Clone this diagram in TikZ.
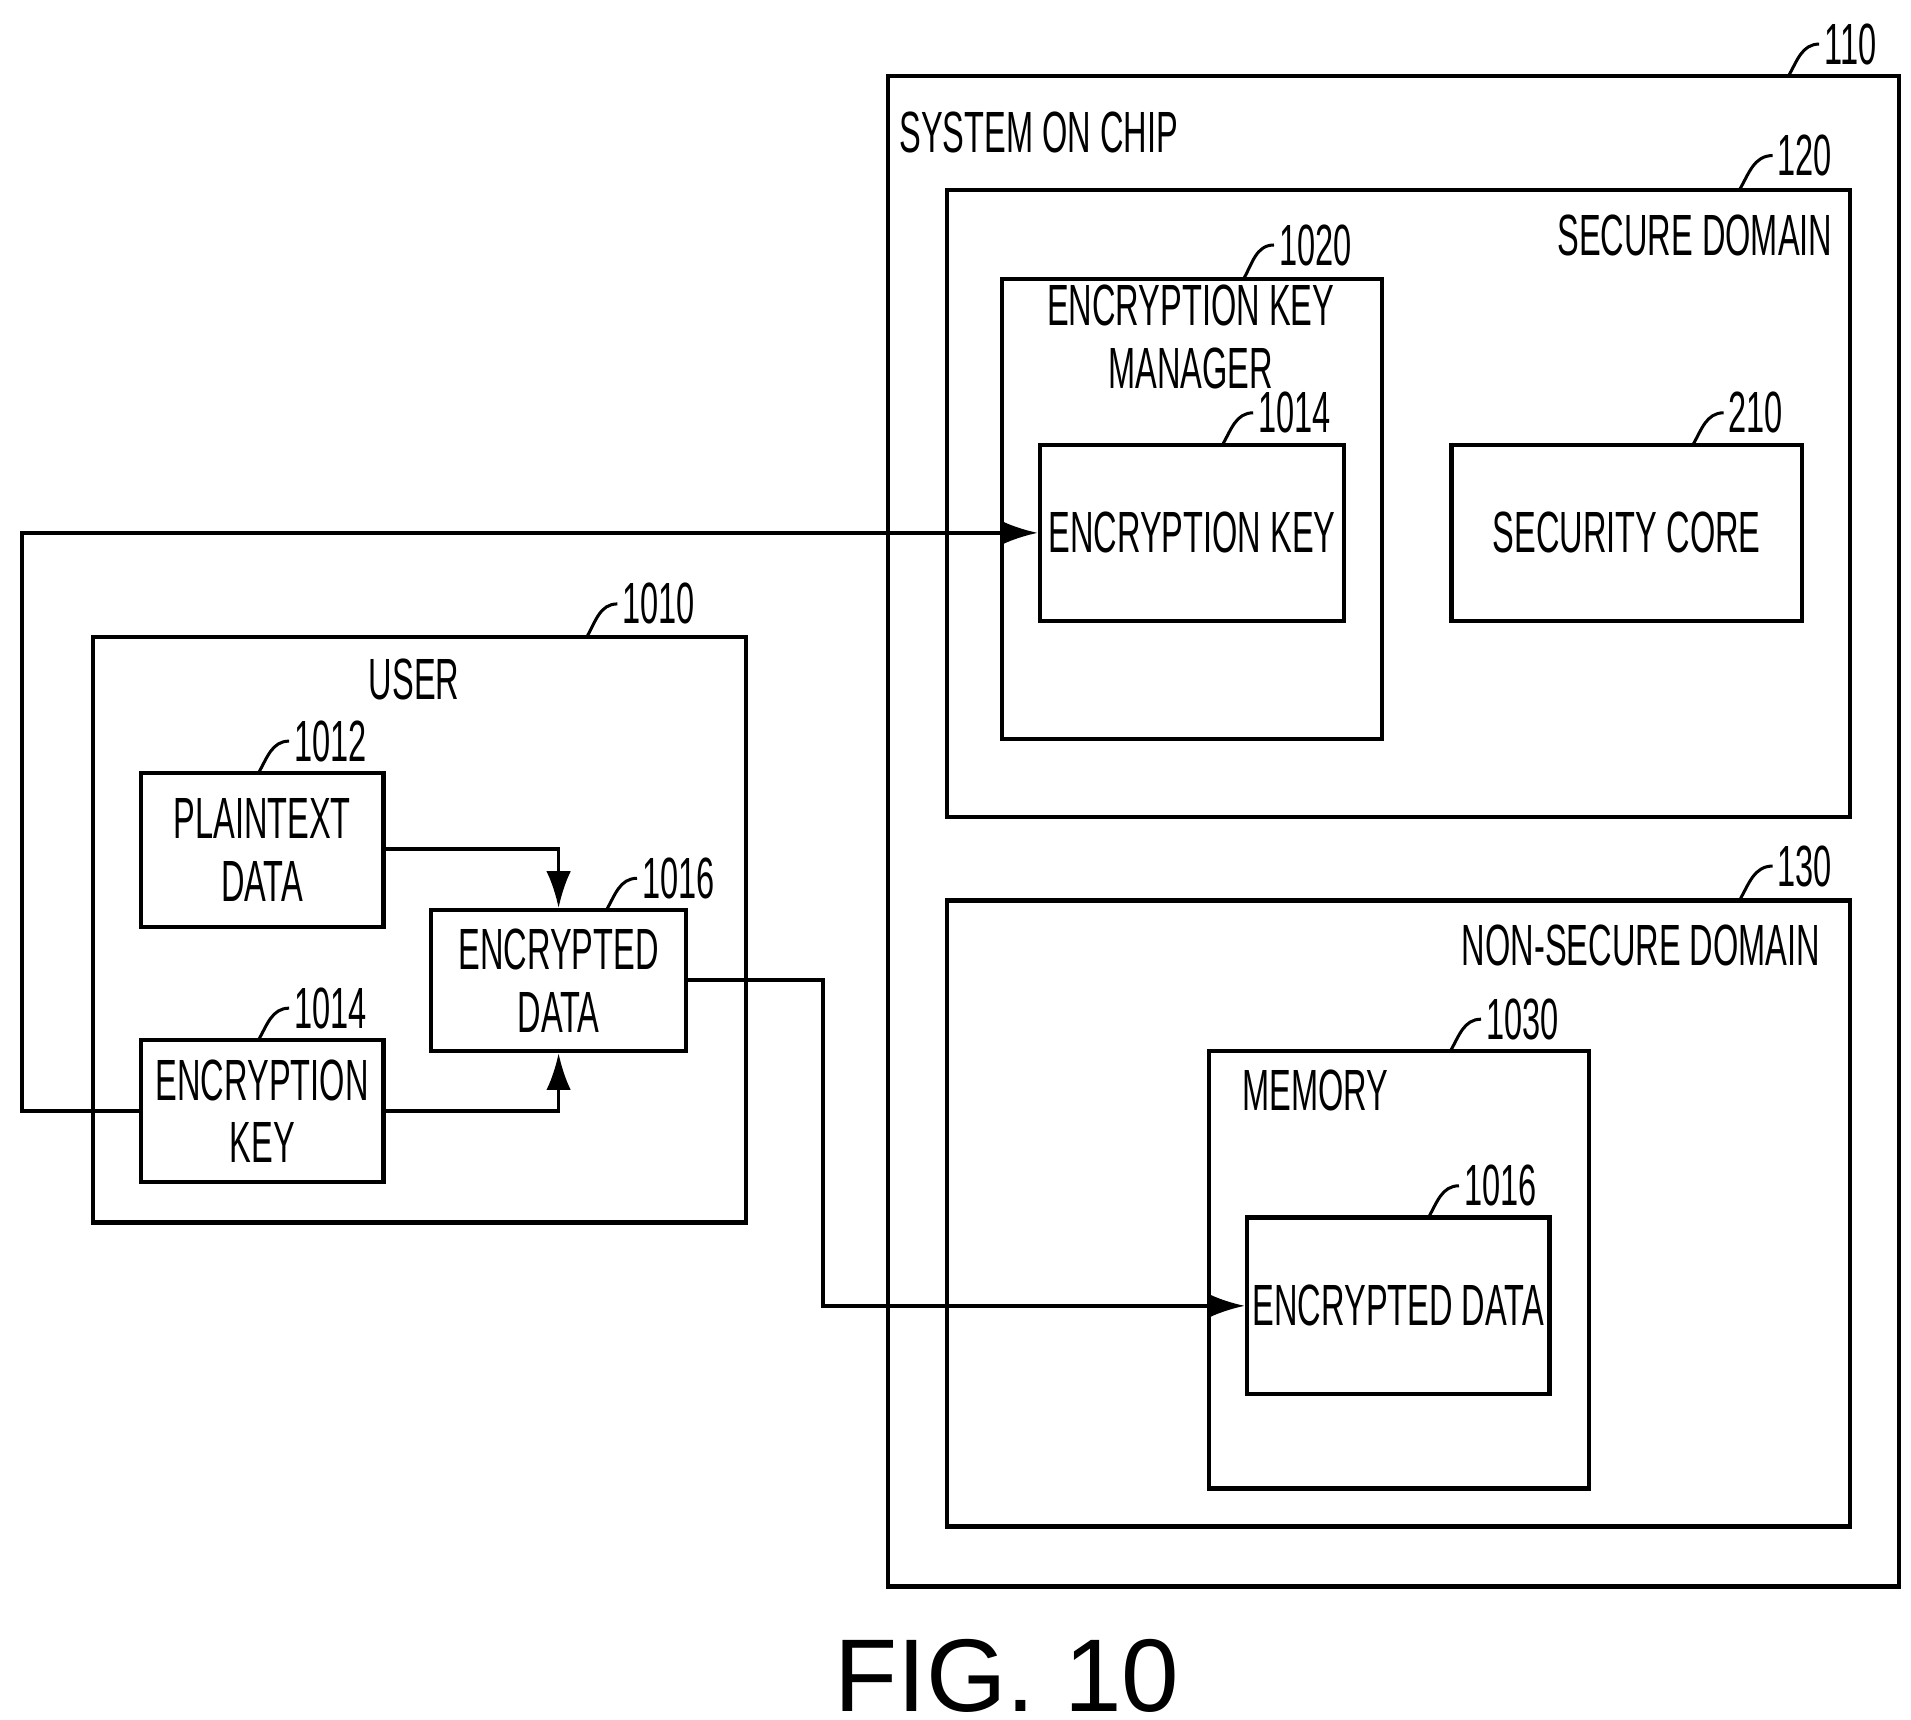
\documentclass[tikz,border=0pt]{standalone}
\usepackage{fontspec}
\setmainfont{Liberation Sans}
\newfontfamily\condfont[FakeStretch=0.56]{Liberation Sans}
\usetikzlibrary{fit,arrows.meta}

\tikzset{
  box/.style={draw, line width=1pt, inner sep=0pt},
  lbl/.style={font=\condfont\fontsize{13.5pt}{14.5pt}\selectfont, align=center, inner sep=1pt},
  refno/.style={font=\condfont\fontsize{13.5pt}{15pt}\selectfont, anchor=west, inner sep=1pt},
  lead/.style={line width=0.7pt},
  conn/.style={line width=0.8pt},
  arr/.style={conn, -{Latex[length=3mm, width=2mm]}}
}

\begin{document}
\begin{tikzpicture}[x=0.01cm, y=-0.01cm]
\useasboundingbox (0,0) rectangle (1560,1404);

% System on chip
\node[box, fit={(725,62)(1550,1295)}] (soc) {};
\node[lbl] (soclbl) at (848,108) {SYSTEM ON CHIP};
\node[refno] (r110) at (1485,36) {110};
\draw[lead] (1460,62) to[out=60,in=180] (r110.west);

% Secure domain
\node[box, fit={(773,155)(1510,667)}] (sec) {};
\node[lbl, anchor=east] (seclbl) at (1500,192) {SECURE DOMAIN};
\node[refno] (r120) at (1447,127) {120};
\draw[lead] (1420,155) to[out=60,in=180] (r120.west);

% Encryption key manager
\node[box, fit={(818,228)(1128,603)}] (ekm) {};
\node[lbl] (ekmlbl) at (972,275) {ENCRYPTION KEY\\MANAGER};
\node[refno] (r1020) at (1040,200) {1020};
\draw[lead] (1015,228) to[out=60,in=180] (r1020.west);

\node[box, fit={(849,363)(1097,507)}] (sockey) {};
\node[lbl] at (sockey) {ENCRYPTION KEY};
\node[refno] (r1014a) at (1023,337) {1014};
\draw[lead] (998,363) to[out=60,in=180] (r1014a.west);

% Security core
\node[box, fit={(1185,363)(1471,507)}] (core) {};
\node[lbl] at (core) {SECURITY CORE};
\node[refno] (r210) at (1407,337) {210};
\draw[lead] (1382,363) to[out=60,in=180] (r210.west);

% Non-secure domain
\node[box, fit={(773,735)(1510,1246)}] (nsec) {};
\node[lbl, anchor=east] (nseclbl) at (1490,772) {NON-SECURE DOMAIN};
\node[refno] (r130) at (1447,707) {130};
\draw[lead] (1420,735) to[out=60,in=180] (r130.west);

% Memory
\node[box, fit={(987,858)(1297,1215)}] (mem) {};
\node[lbl] (memlbl) at (1074,890) {MEMORY};
\node[refno] (r1030) at (1209,832) {1030};
\draw[lead] (1184,858) to[out=60,in=180] (r1030.west);

\node[box, fit={(1018,994)(1265,1138)}] (memdata) {};
\node[lbl] at (memdata) {ENCRYPTED DATA};
\node[refno] (r1016b) at (1191,968) {1016};
\draw[lead] (1166,994) to[out=60,in=180] (r1016b.west);

% User
\node[box, fit={(76,520)(609,998)}] (user) {};
\node[lbl] (userlbl) at (338,555) {USER};
\node[refno] (r1010) at (504,493) {1010};
\draw[lead] (479,520) to[out=60,in=180] (r1010.west);

\node[box, fit={(115,631)(313,757)}] (plain) {};
\node[lbl] at (plain) {PLAINTEXT\\DATA};
\node[refno] (r1012) at (236,605) {1012};
\draw[lead] (211,631) to[out=60,in=180] (r1012.west);

\node[box, fit={(115,849)(313,965)}] (ukey) {};
\node[lbl] at (ukey) {ENCRYPTION\\KEY};
\node[refno] (r1014b) at (236,823) {1014};
\draw[lead] (211,849) to[out=60,in=180] (r1014b.west);

\node[box, fit={(352,743)(560,858)}] (udata) {};
\node[lbl] at (udata) {ENCRYPTED\\DATA};
\node[refno] (r1016a) at (520,717) {1016};
\draw[lead] (495,743) to[out=60,in=180] (r1016a.west);

% Connectors
\draw[arr] (plain.east |- 0,693) -| (udata.north -| 456,0);
\draw[arr] (ukey.east |- 0,907) -| (udata.south -| 456,0);
\draw[arr] (ukey.west |- 0,907) -- (18,907) |- (sockey.west);
\draw[arr] (udata.east |- 0,800) -| (672,1066) -- (memdata.west |- 0,1066);

% Caption
\node[font=\fontsize{24pt}{28pt}\selectfont] (cap) at (822,1368) {FIG. 10};
\end{tikzpicture}
\end{document}
